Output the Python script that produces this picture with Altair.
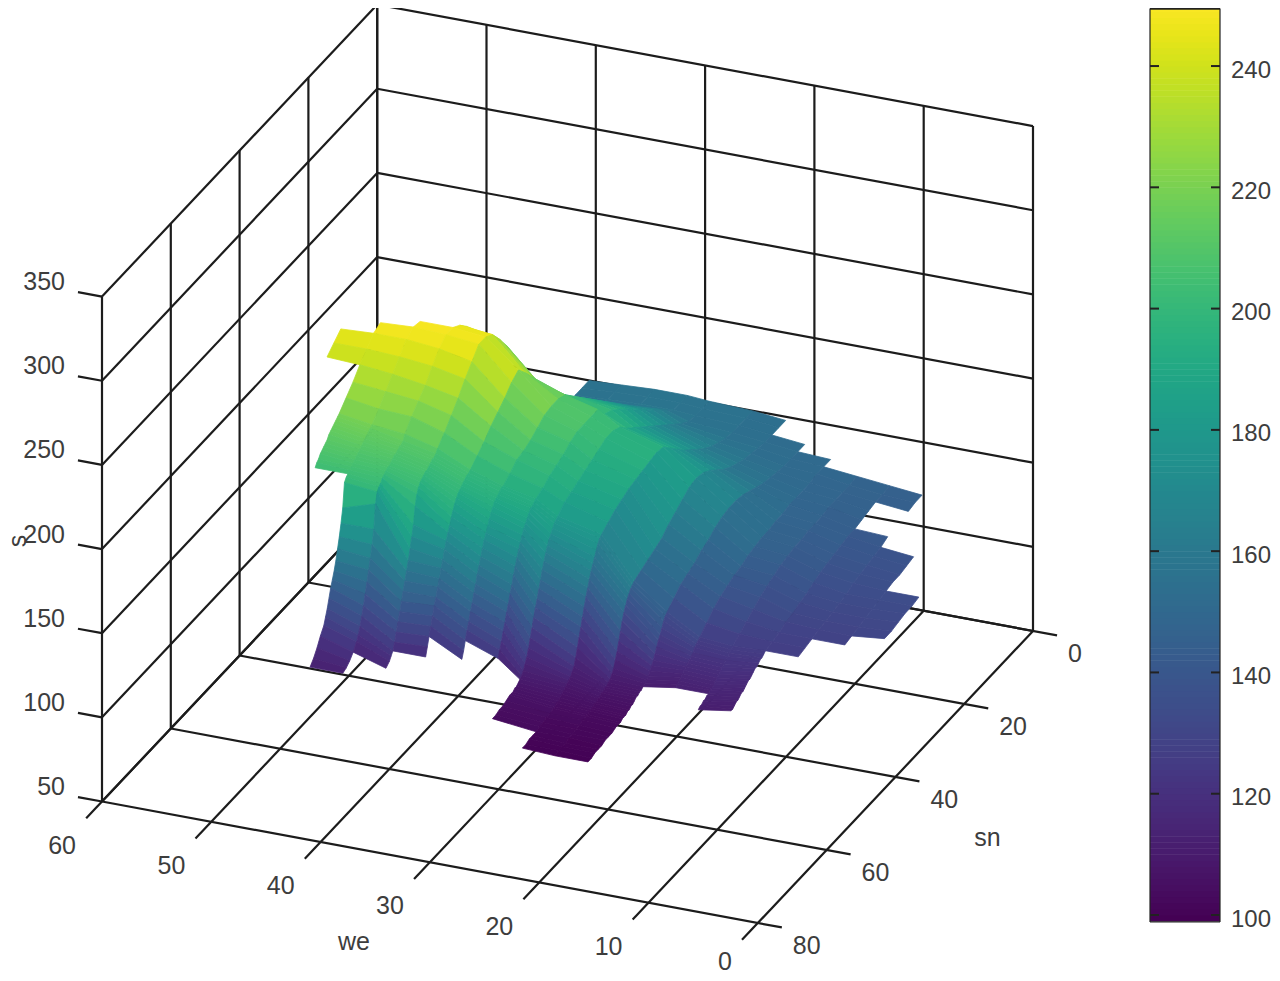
import altair as alt
import pandas as pd

# ---- surface heights: s on a (we, sn) lattice ----
SN = [2,4,6,8,10,12,14,16,18,20,22,24,26,28,30,32,34,36,38,40,42,44,46,
      46.5,47,47.5,48,48.5,49,49.5,50,50.5,51,51.5,52,52.5,53,53.5,54,54.5,55,55.5,56,
      56.5,57,57.5,58,58.5,59,59.5,60,
      61,62,63,64,65,66,67,68,69]

# we column: (first sn of the column, s values; 0 = no data)
COLUMNS = {
 1: (30, [134,133,133,132,131,131]),
 4: (22, [137,136,135,135,134,133,132,131,130,129,128]),
 7: (10, [144,144,143,0,0,141,139,138,137,136,135,133,132,131,130,129,128,127,126]),
 10: (10, [146,145,145,144,143,142,142,141,140,139,138,136,134,133,131,130,128,127,126,
           125,124,124,123,122,122,121,120,119,119,118,117,116,116,115,114,114,113,112,112]),
 13: (10, [148,147,147,147,147,146,146,146,145,145,144,143,141,139,137,134,131,128,125,
           124,123,122,121,120,119,118,117,116,115,114,113,113,112,112,111,111,110,110,109]),
 16: (8, [150,150,150,149,149,149,149,148,148,147,147,146,145,143,142,140,138,135,131,127,
          126,125,124,122,121,120,119,118,117,116,115,114,113,112]),
 19: (6, [151,151,151,151,152,153,154,156,158,160,161,161,160,158,155,153,150,148,146,142,138,
          137,135,132,129,127,124,121,118,116,114,112,111,110,109,108,108,107,107,106,105,105,104,104,103,103,103,102,102,
          102,101,101,101,100,100,100,99,99]),
 22: (2, [153,153,153,153,154,155,156,158,160,163,167,171,174,175,174,171,168,165,161,159,157,155,153,
          152,151,149,147,144,141,137,132,127,122,118,114,112,110,109,108,108,107,107,106,106,105,105,104,104,104,103,103,
          103,102,102,101,101,100,100,100,99]),
 25: (2, [155,155,155,155,156,158,160,163,167,171,175,180,185,190,191,190,189,188,187,185,183,180,177,
          176,174,171,168,165,162,158,154,150,145,140,135,130,125,120,116,114,112,111,110,109,108,107,106,105,105,104,104,
          103,103,102,102,101,101,101,100,100]),
 29: (2, [156,156,156,157,160,164,168,172,176,180,184,188,192,197,199,199,197,195,193,191,189,187,183,
          182,181,179,177,175,172,169,165,161,156,152,147,143,138,133,128,123,119,116,113,111,110,109,108,108,107,107,107,
          106,105,105,104,104]),
 31: (2, [157,157,157,161,166,170,174,179,183,188,192,196,198,205,205,205,205,203,200,198,196,193,191,
          190,189,189,187,185,183,181,178,175,172,168,164,160,155,151,146,142,137,133,128,124,120]),
 34: (2, [157,157,157,160,165,170,175,180,185,190,195,200,204,210,212,212,211,208,205,203,202,198,195,
          195,194,193,192,191,189,187,184,181,178,175,171,167,163,159,154,150,145,141,136,132,127,122,118]),
 37: (2, [156,156,156,158,163,168,173,178,183,188,193,200,209,217,224,230,227,222,218,214,209,205,201,
          200,200,199,198,197,196,195,193,191,188,185,181,178,174,170,165,161,156,152,147,143,138,133,128,123,118]),
 40: (2, [155,155,155,155,160,168,175,182,189,197,206,218,228,236,243,246,246,240,234,227,221,215,210,
          208,207,207,206,205,204,204,203,202,201,199,196,190,180,174,168,162,157,152,147,142,137,132,127,122,118,116,114,
          112]),
 43: (28, [240,245,248,248,244,238,231,226,221,215,
           212,211,211,210,209,209,208,207,206,206,205,204,203,201,200,198,192,178,170,163,157,151,145,139,134,129,125,122,
           118,115,113,112]),
 46: (32, [248,249,246,240,234,228,222,217,
           216,215,214,213,212,211,210,209,208,207,206,205,204,203,202,200,186,178,171,165,159,154,150,146,141,136,132,128,
           124,119,115,112]),
 49: (34, [248,246,241,236,230,225,220,
           219,218,217,216,215,214,212,211,210,209,208,206,205,203]),
 52: (36, [245,241,237]),
}

# ---- box and axes ----
WE_TICKS = [10,20,30,40,50,60]
WE_ZERO = [0]
SN_TICKS = [0,20,40,60,80]
S_TICKS = [50,100,150,200,250,300,350]
BAR_TICKS = [100,120,140,160,180,200,220,240]
BAR_LEVELS = list(range(99, 250))

INK = "#1c1c1c"
TXT = "#3d3d3d"
FONT = "Liberation Sans"


def px(we, sn):
    return 1033 - 10.93 * we - 3.44 * sn


def py(we, sn, s):
    return 631 - 2.025 * we + 3.65 * sn - 1.683 * (s - 50)


def bar_y(s):
    return 915 - 6.064 * (s - 100)


X = alt.Scale(domain=[8, 1272], range=[0, 1264], nice=False, zero=False)
Y = alt.Scale(domain=[973, 8], range=[965, 0], nice=False, zero=False)
COLOR = alt.Scale(scheme="viridis", domain=[99, 250], clamp=True)


def segment(rows, a, b):
    rows.append({"x": px(a[0], a[1]), "y": py(*a), "x2": px(b[0], b[1]), "y2": py(*b)})


# grid lines on the two walls and the floor, with their tick stubs
lines = []
for we in WE_ZERO + WE_TICKS:
    segment(lines, (we, 0, 50), (we, 0, 350))
    segment(lines, (we, 0, 50), (we, 84.6, 50))
for sn in SN_TICKS:
    segment(lines, (60, sn, 50), (60, sn, 350))
    segment(lines, (60, sn, 50), (-2.2, sn, 50))
for s in S_TICKS:
    segment(lines, (0, 0, s), (60, 0, s))
    segment(lines, (60, 0, s), (60, 80, s))
    segment(lines, (60, 80, s), (62.2, 80, s))
grid = alt.Chart(pd.DataFrame(lines)).mark_rule(color=INK, strokeWidth=2.2).encode(
    x=alt.X("x:Q", scale=X, axis=None),
    y=alt.Y("y:Q", scale=Y, axis=None),
    x2="x2:Q",
    y2="y2:Q",
)

# surface cells, painted from the back of the box to the front
nodes = {}
for we, (first, vals) in COLUMNS.items():
    start = SN.index(first)
    for k, v in enumerate(vals):
        if v:
            nodes[(we, start + k)] = v
cols = sorted(COLUMNS, reverse=True)
cells = []
cid = 0
for j in range(len(SN) - 1):
    for a, b in zip(cols[:-1], cols[1:]):
        keys = [(a, j), (b, j), (b, j + 1), (a, j + 1)]
        if not all(k in nodes for k in keys):
            continue
        mean = sum(nodes[k] for k in keys) / 4
        for v, k in enumerate(keys + keys[:1]):
            w, i = k
            cells.append({"cell": cid, "v": v, "x": px(w, SN[i]), "y": py(w, SN[i], nodes[k]), "s": mean})
        cid += 1
surface = alt.Chart(pd.DataFrame(cells)).mark_line(strokeWidth=0.8, interpolate="linear").encode(
    x=alt.X("x:Q", scale=X, axis=None),
    y=alt.Y("y:Q", scale=Y, axis=None),
    detail="cell:N",
    order="v:Q",
    fill=alt.Fill("s:Q", scale=COLOR, legend=None),
    stroke=alt.Stroke("s:Q", scale=COLOR, legend=None),
)

# tick labels
def text_layer(df, align, dx, dy, size=25):
    return alt.Chart(df).mark_text(font=FONT, fontSize=size, color=TXT, align=align, baseline="middle", dx=dx, dy=dy).encode(
        x=alt.X("x:Q", scale=X, axis=None),
        y=alt.Y("y:Q", scale=Y, axis=None),
        text="t:N",
    )


we_lab = pd.DataFrame({"x": [px(w, 80) for w in WE_TICKS], "y": [py(w, 80, 50) for w in WE_TICKS], "t": [str(w) for w in WE_TICKS]})
we_zero = pd.DataFrame({"x": [px(w, 80) for w in WE_ZERO], "y": [py(w, 80, 50) for w in WE_ZERO], "t": [str(w) for w in WE_ZERO]})
sn_lab = pd.DataFrame({"x": [px(0, n) for n in SN_TICKS], "y": [py(0, n, 50) for n in SN_TICKS], "t": [str(n) for n in SN_TICKS]})
s_lab = pd.DataFrame({"x": [px(60, 80) for _ in S_TICKS], "y": [py(60, 80, s) for s in S_TICKS], "t": [str(s) for s in S_TICKS]})
we_title = pd.DataFrame({"x": [px(30, 80)], "y": [py(30, 80, 50)], "t": ["we"]})
sn_title = pd.DataFrame({"x": [px(0, 40)], "y": [py(0, 40, 50)], "t": ["sn"]})
s_title = pd.DataFrame({"x": [px(60, 80)], "y": [py(60, 80, 200)], "t": ["s"]})

labels = [
    text_layer(we_lab, "right", -26, 44),
    text_layer(we_zero, "right", -26, 39),
    text_layer(sn_lab, "left", 35, 23),
    text_layer(s_lab, "right", -37, -14.5),
    text_layer(we_title, "center", -76, 80),
    text_layer(sn_title, "center", 92, 61),
    alt.Chart(s_title).mark_text(font=FONT, fontSize=25, color=TXT, align="center", baseline="middle", angle=270, dx=8, dy=-84).encode(
        x=alt.X("x:Q", scale=X, axis=None), y=alt.Y("y:Q", scale=Y, axis=None), text="t:N"),
]

# colour bar
BAR_L, BAR_R = 1150, 1220
bar_df = pd.DataFrame({"s": BAR_LEVELS, "y": [bar_y(s + 1) for s in BAR_LEVELS], "y2": [bar_y(s) + 0.5 for s in BAR_LEVELS]})
bar = alt.Chart(bar_df).mark_rect().encode(
    x=alt.value(BAR_L - 8),
    x2=alt.value(BAR_R - 8),
    y=alt.Y("y:Q", scale=Y, axis=None),
    y2="y2:Q",
    color=alt.Color("s:Q", scale=COLOR, legend=None),
)
frame = pd.DataFrame([
    {"x": BAR_L, "y": bar_y(249.5), "x2": BAR_L, "y2": bar_y(98.85), "w": 1.2},
    {"x": BAR_R, "y": bar_y(249.5), "x2": BAR_R, "y2": bar_y(98.85), "w": 1.2},
    {"x": BAR_L, "y": bar_y(98.85), "x2": BAR_R, "y2": bar_y(98.85), "w": 1.2},
    {"x": BAR_L, "y": bar_y(249.5), "x2": BAR_R, "y2": bar_y(249.5), "w": 2.5},
])
for t in BAR_TICKS:
    frame.loc[len(frame)] = {"x": BAR_L, "y": bar_y(t), "x2": BAR_L + 9, "y2": bar_y(t), "w": 2}
    frame.loc[len(frame)] = {"x": BAR_R - 9, "y": bar_y(t), "x2": BAR_R, "y2": bar_y(t), "w": 2}
bar_frame = alt.Chart(frame).mark_rule(color="#222222").encode(
    x=alt.X("x:Q", scale=X, axis=None),
    y=alt.Y("y:Q", scale=Y, axis=None),
    x2="x2:Q",
    y2="y2:Q",
    strokeWidth=alt.StrokeWidth("w:Q", scale=None),
)
bar_lab = pd.DataFrame({"x": [BAR_R for _ in BAR_TICKS], "y": [bar_y(t) for t in BAR_TICKS], "t": [str(t) for t in BAR_TICKS]})

chart = alt.layer(
    grid, surface, *labels, bar, bar_frame, text_layer(bar_lab, "left", 11, 4.5, 24)
).properties(width=1264, height=965, padding=0, autosize=alt.AutoSizeParams(type="none")).configure_view(stroke=None)

chart.save("out.html", embed_options={"renderer": "svg", "actions": False})
